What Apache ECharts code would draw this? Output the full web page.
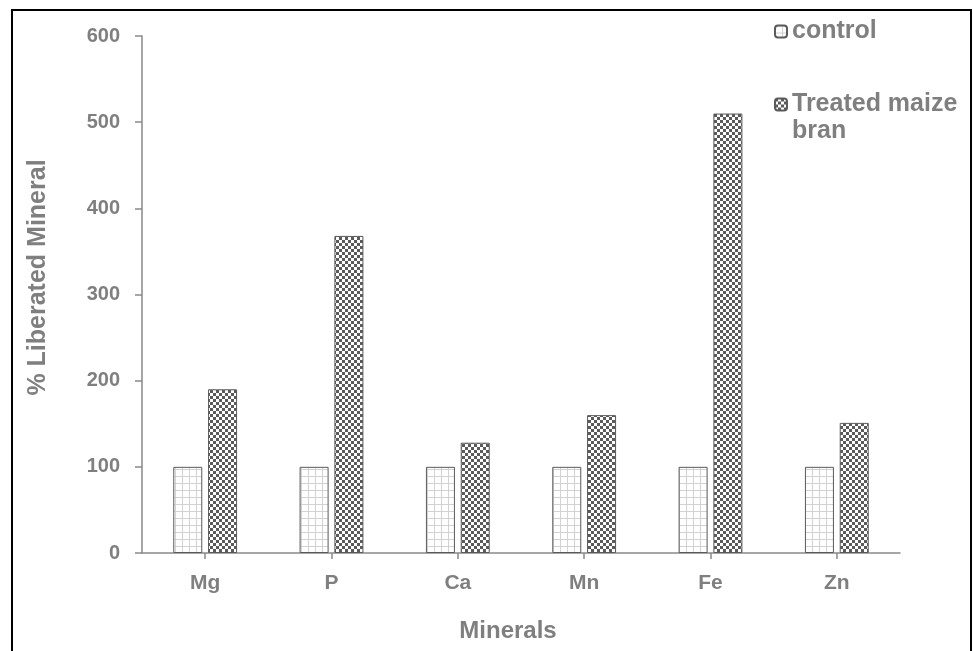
<!DOCTYPE html>
<html>
<head>
<meta charset="utf-8">
<script src="https://cdn.jsdelivr.net/npm/echarts@6/dist/echarts.min.js"></script>
<style>
html,body{margin:0;padding:0;background:#fff;}
#chart{width:973px;height:651px;}
</style>
</head>
<body>
<div id="chart"></div>
<script>
var categories = ['Mg', 'P', 'Ca', 'Mn', 'Fe', 'Zn'];
var seriesNames = ['control', 'Treated maize bran'];
var controlValues = [100, 100, 100, 100, 100, 100];
var treatedValues = [190, 368, 128, 160, 510, 151];
var yTicks = [0, 100, 200, 300, 400, 500, 600];

function gridPattern() {
  var c = document.createElement('canvas');
  c.width = 7; c.height = 7;
  var g = c.getContext('2d');
  g.fillStyle = '#ffffff'; g.fillRect(0, 0, 7, 7);
  g.fillStyle = '#d2d2d2';
  g.fillRect(0, 0, 7, 1);
  g.fillRect(0, 0, 1, 7);
  return c;
}
function checkerPattern() {
  var c = document.createElement('canvas');
  c.width = 6; c.height = 6;
  var g = c.getContext('2d');
  g.fillStyle = '#ffffff'; g.fillRect(0, 0, 6, 6);
  g.fillStyle = '#5a5a5a';
  g.fillRect(0, 0, 3, 3);
  g.fillRect(3, 3, 3, 3);
  return c;
}

var textGray = '#7f7f7f';
var axisGray = '#898989';
var fontFamily = '"Liberation Sans", Arial, sans-serif';

var chart = echarts.init(document.getElementById('chart'), null, {renderer: 'canvas'});
chart.setOption({
  animation: false,
  backgroundColor: '#ffffff',
  grid: {left: 142, right: 73, top: 36, bottom: 98, containLabel: false, outerBoundsMode: 'none'},
  legend: {
    orient: 'vertical',
    left: 774,
    top: 18,
    padding: 0,
    itemGap: 19,
    itemWidth: 12,
    itemHeight: 12,
    selectedMode: false,
    formatter: function (name) {
      // multi-line entry: keep the first line level with its icon
      return name === seriesNames[1] ? '\n' + name : name;
    },
    textStyle: {
      color: textGray, fontSize: 25, fontWeight: 'bold', fontFamily: fontFamily,
      lineHeight: 27, width: 180, overflow: 'break'
    },
    data: seriesNames
  },
  xAxis: {
    type: 'category',
    data: categories,
    name: 'Minerals',
    nameLocation: 'middle',
    nameGap: 66,
    nameTextStyle: {color: textGray, fontSize: 24, fontWeight: 'bold', fontFamily: fontFamily, padding: [0, 26, 0, 0]},
    axisLine: {lineStyle: {color: axisGray, width: 1.5}},
    axisTick: {show: true, alignWithLabel: true, length: 6, lineStyle: {color: axisGray, width: 1.5}},
    axisLabel: {color: textGray, fontSize: 21, fontWeight: 'bold', fontFamily: fontFamily, margin: 20}
  },
  yAxis: {
    type: 'value',
    min: yTicks[0],
    max: yTicks[yTicks.length - 1],
    interval: 100,
    name: '% Liberated Mineral',
    nameLocation: 'middle',
    nameGap: 91,
    nameTextStyle: {color: textGray, fontSize: 25, fontWeight: 'bold', fontFamily: fontFamily, padding: [0, 0, 0, 34]},
    axisLine: {show: true, lineStyle: {color: axisGray, width: 1.5}},
    axisTick: {show: true, length: 7, lineStyle: {color: axisGray, width: 1.5}},
    splitLine: {show: false},
    axisLabel: {color: textGray, fontSize: 20, fontWeight: 'bold', fontFamily: fontFamily, margin: 22}
  },
  series: [
    {
      name: seriesNames[0],
      type: 'bar',
      data: controlValues,
      barWidth: 29,
      barGap: '20%',
      itemStyle: {color: {image: gridPattern(), repeat: 'repeat'}, borderColor: '#5a5a5a', borderWidth: 1}
    },
    {
      name: seriesNames[1],
      type: 'bar',
      data: treatedValues,
      barWidth: 29,
      barGap: '20%',
      itemStyle: {color: {image: checkerPattern(), repeat: 'repeat'}, borderColor: '#5a5a5a', borderWidth: 1}
    }
  ],
  graphic: [{
    type: 'rect',
    silent: true,
    z: 100,
    shape: {x: 12, y: 10, width: 959, height: 700},
    style: {fill: 'none', stroke: '#000000', lineWidth: 2}
  }]
});
</script>
</body>
</html>
